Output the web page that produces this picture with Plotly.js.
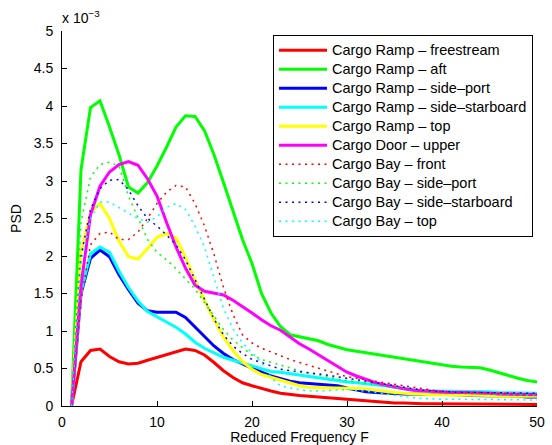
<!DOCTYPE html>
<html>
<head>
<meta charset="utf-8">
<script src="https://cdn.plot.ly/plotly-3.0.1.min.js"></script>
<style>html,body{margin:0;padding:0;background:#fff;}#chart{width:552px;height:445px;}</style>
</head>
<body>
<div id="chart"></div>
<script>
// Reduced frequency F (x axis)
const freq = [1,2,3,4,5,6,7,8,9,10,11,12,13,14,15,16,17,18,19,20,21,22,23,24,25,26,27,28,29,30,31,32,33,34,35,36,37,38,39,40,41,42,43,44,45,46,47,48,49,50];

// PSD values in units of 1e-3
const rampFreestream = [0,0.59,0.74,0.76,0.66,0.59,0.56,0.57,0.61,0.65,0.69,0.73,0.76,0.74,0.68,0.58,0.47,0.38,0.31,0.27,0.23,0.2,0.17,0.15,0.14,0.13,0.12,0.1,0.09,0.08,0.07,0.06,0.05,0.05,0.04,0.04,0.03,0.03,0.03,0.03,0.02,0.02,0.02,0.02,0.02,0.02,0.02,0.02,0.02,0.02];
const rampAft = [0,3.15,3.98,4.07,3.72,3.35,2.92,2.84,2.98,3.2,3.45,3.72,3.87,3.86,3.67,3.35,2.98,2.6,2.22,1.9,1.5,1.24,1.06,0.95,0.92,0.9,0.87,0.82,0.78,0.75,0.73,0.71,0.69,0.67,0.65,0.63,0.61,0.58,0.56,0.54,0.53,0.52,0.52,0.51,0.48,0.44,0.4,0.37,0.34,0.32];
const rampSidePort = [0,1.5,1.97,2.08,1.99,1.75,1.55,1.37,1.27,1.25,1.25,1.25,1.18,1.05,0.92,0.8,0.7,0.62,0.56,0.5,0.45,0.4,0.36,0.33,0.31,0.3,0.3,0.29,0.27,0.24,0.21,0.19,0.18,0.17,0.17,0.16,0.16,0.16,0.15,0.15,0.15,0.15,0.14,0.14,0.14,0.13,0.13,0.13,0.12,0.12];
const rampSideStarboard = [0,1.52,2.03,2.12,2.05,1.8,1.58,1.4,1.26,1.19,1.12,1.05,0.96,0.85,0.77,0.71,0.65,0.61,0.57,0.53,0.49,0.46,0.45,0.43,0.41,0.39,0.37,0.35,0.34,0.32,0.31,0.3,0.29,0.27,0.25,0.23,0.21,0.2,0.2,0.2,0.2,0.2,0.2,0.19,0.19,0.18,0.18,0.17,0.17,0.17];
const rampTop = [0,2.05,2.58,2.7,2.5,2.2,1.99,1.96,2.1,2.25,2.3,2.24,1.98,1.68,1.41,1.15,0.92,0.74,0.59,0.49,0.42,0.38,0.34,0.3,0.27,0.25,0.24,0.24,0.24,0.24,0.24,0.23,0.21,0.19,0.18,0.17,0.16,0.16,0.15,0.15,0.15,0.14,0.14,0.14,0.14,0.13,0.13,0.13,0.13,0.13];
const doorUpper = [0,1.6,2.55,2.93,3.12,3.22,3.26,3.21,3.03,2.8,2.45,2.12,1.84,1.61,1.53,1.51,1.48,1.41,1.33,1.24,1.15,1.07,1.01,0.92,0.83,0.76,0.68,0.6,0.52,0.45,0.4,0.35,0.31,0.28,0.25,0.23,0.21,0.2,0.19,0.19,0.18,0.18,0.18,0.17,0.17,0.16,0.16,0.16,0.15,0.15];
const bayFront = [0,1.4,2.15,2.3,2.32,2.22,2.22,2.32,2.5,2.7,2.85,2.94,2.92,2.7,2.4,2.02,1.58,1.22,0.95,0.84,0.77,0.72,0.66,0.62,0.58,0.54,0.5,0.46,0.42,0.39,0.37,0.35,0.33,0.31,0.29,0.26,0.24,0.22,0.2,0.19,0.19,0.18,0.18,0.18,0.17,0.17,0.17,0.16,0.16,0.16];
const baySidePort = [0,2.45,3.05,3.22,3.25,3.2,2.8,2.5,2.22,2.05,1.95,1.83,1.7,1.56,1.38,1.2,1.02,0.88,0.78,0.68,0.62,0.58,0.54,0.5,0.47,0.44,0.41,0.38,0.36,0.34,0.32,0.3,0.28,0.27,0.25,0.24,0.22,0.21,0.2,0.19,0.18,0.17,0.17,0.16,0.16,0.15,0.15,0.15,0.14,0.14];
const baySideStarboard = [0,2.0,2.62,2.9,3.01,3.02,2.88,2.67,2.5,2.4,2.28,2.15,1.95,1.68,1.41,1.16,0.95,0.8,0.7,0.62,0.58,0.53,0.49,0.47,0.46,0.45,0.43,0.41,0.39,0.37,0.35,0.33,0.3,0.28,0.26,0.24,0.22,0.21,0.2,0.19,0.19,0.18,0.18,0.18,0.18,0.17,0.17,0.17,0.17,0.17];
const bayTop = [0,1.9,2.5,2.72,2.72,2.65,2.58,2.5,2.45,2.52,2.65,2.7,2.62,2.4,2.12,1.72,1.3,1.03,0.84,0.71,0.58,0.38,0.27,0.24,0.22,0.2,0.2,0.21,0.22,0.22,0.21,0.2,0.18,0.16,0.14,0.12,0.11,0.1,0.09,0.09,0.09,0.09,0.09,0.08,0.08,0.08,0.08,0.08,0.08,0.08];

const seriesNames = ['Cargo Ramp – freestream','Cargo Ramp – aft','Cargo Ramp – side–port','Cargo Ramp – side–starboard','Cargo Ramp – top','Cargo Door – upper','Cargo Bay – front','Cargo Bay – side–port','Cargo Bay – side–starboard','Cargo Bay – top'];
const seriesValues = [rampFreestream, rampAft, rampSidePort, rampSideStarboard, rampTop, doorUpper, bayFront, baySidePort, baySideStarboard, bayTop];
const seriesColors = ['#ff0000','#00ff00','#0000ff','#00ffff','#ffff00','#ff00ff','#ff0000','#00ff00','#0000ff','#00ffff'];
const seriesDotted = [false,false,false,false,false,false,true,true,true,true];

const yTicks = [0,0.5,1,1.5,2,2.5,3,3.5,4,4.5,5];
const yTickText = ['0','0.5','1','1.5','2','2.5','3','3.5','4','4.5','5'];
const xTicks = [0,10,20,30,40,50];

const FONT = 'Liberation Sans, Arial, Helvetica, sans-serif';

const traces = seriesNames.map((name, i) => ({
  type: 'scatter', mode: 'lines',
  name: '<span style="font-size:14.5px">' + name + '</span>',
  x: freq, y: seriesValues[i],
  line: seriesDotted[i]
    ? {color: seriesColors[i], width: 1.5, dash: '2px,4.5px'}
    : {color: seriesColors[i], width: 3}
}));

const layout = {
  width: 552, height: 445,
  margin: {l: 62, r: 15, t: 31, b: 39, pad: 0},
  paper_bgcolor: '#fff', plot_bgcolor: '#fff',
  font: {family: FONT, size: 14, color: '#000'},
  showlegend: true,
  legend: {
    x: 0.9916, y: 0.99, xanchor: 'right', yanchor: 'top',
    bgcolor: '#fff', bordercolor: '#000', borderwidth: 1,
    font: {family: FONT, size: 11.5, color: '#000'},
    itemwidth: 48, tracegroupgap: 0
  },
  xaxis: {
    range: [0, 50], tickvals: xTicks, ticks: 'inside', ticklen: 5, tickcolor: '#000',
    showline: true, linecolor: '#000', linewidth: 1, mirror: false,
    showgrid: false, zeroline: false, ticklabelstandoff: 3,
    title: {text: 'Reduced Frequency F', standoff: 4, font: {family: FONT, size: 14}}
  },
  yaxis: {
    range: [0, 5], tickvals: yTicks, ticktext: yTickText, ticks: 'inside', ticklen: 5, tickcolor: '#000',
    showline: true, linecolor: '#000', linewidth: 1, mirror: false,
    showgrid: false, zeroline: false, ticklabelstandoff: 5,
    title: {text: 'PSD', standoff: 8, font: {family: FONT, size: 14}}
  },
  annotations: [{
    xref: 'paper', yref: 'paper', x: 0, y: 1, xanchor: 'left', yanchor: 'bottom',
    text: 'x 10<sup>−3</sup>', showarrow: false, font: {family: FONT, size: 14}, yshift: 3, xshift: -2
  }]
};

Plotly.newPlot('chart', traces, layout, {staticPlot: true, displayModeBar: false});
</script>
</body>
</html>
